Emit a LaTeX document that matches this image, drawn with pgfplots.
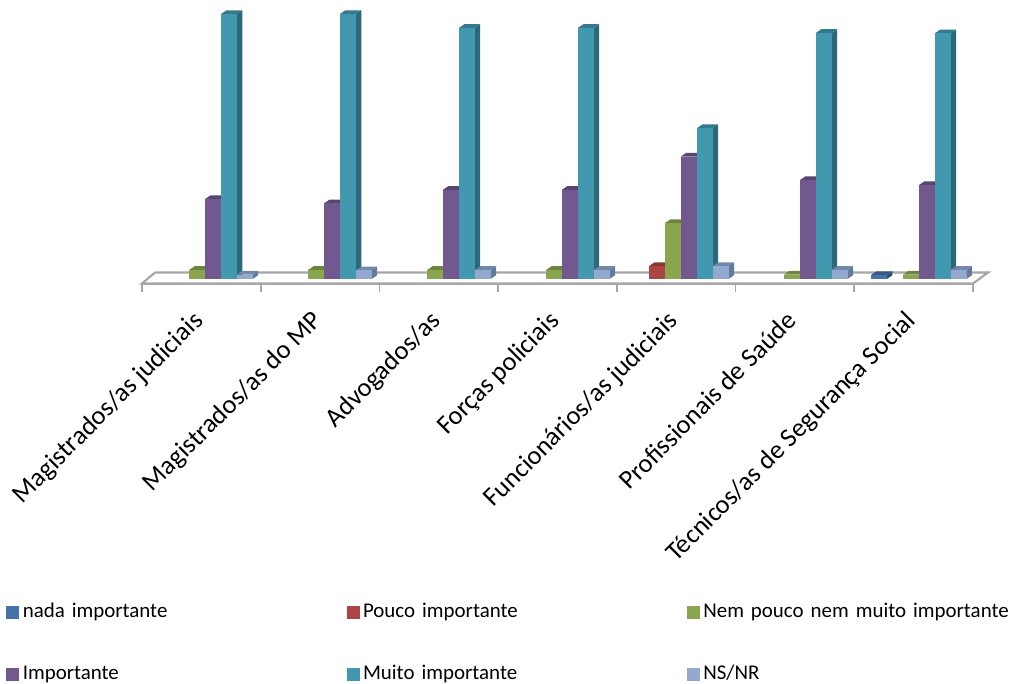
\documentclass[border=0pt]{standalone}
\usepackage{fontspec}
\setmainfont{Carlito}
\usepackage{pgfplots}
\pgfplotsset{compat=1.18}
\definecolor{cBlue}{HTML}{4572A7}\definecolor{cBlueS}{HTML}{2F4F75}\definecolor{cBlueT}{HTML}{365A86}
\definecolor{cRed}{HTML}{AA4643}\definecolor{cRedS}{HTML}{762F2D}\definecolor{cRedT}{HTML}{883634}
\definecolor{cGreen}{HTML}{89A54E}\definecolor{cGreenS}{HTML}{5F7335}\definecolor{cGreenT}{HTML}{6E843E}
\definecolor{cPurple}{HTML}{71588F}\definecolor{cPurpleS}{HTML}{4E3C63}\definecolor{cPurpleT}{HTML}{5A4572}
\definecolor{cTeal}{HTML}{4198AF}\definecolor{cTealS}{HTML}{2C6879}\definecolor{cTealT}{HTML}{34798C}
\definecolor{cSky}{HTML}{93A9CF}\definecolor{cSkyS}{HTML}{627A9B}\definecolor{cSkyT}{HTML}{7187AC}
\definecolor{axisgray}{HTML}{A6A6A6}
\pgfmathsetmacro{\unitx}{1/118.7}
\pgfmathsetmacro{\depthx}{5.5*\unitx}
\pgfmathsetmacro{\depthy}{3.8/3.58}
% one 3-D column: category, series position, value, colour stem
\newcommand{\column}[4]{%
  \pgfmathsetmacro{\xa}{#1+(15.3+0.25*#1+15.9*#2)*\unitx}%
  \pgfmathsetmacro{\xb}{\xa+15.9*\unitx}%
  \pgfmathsetmacro{\xc}{\xb+\depthx}%
  \pgfmathsetmacro{\xd}{\xa+\depthx}%
  \pgfmathsetmacro{\yt}{#3+\depthy}%
  \addplot[forget plot,draw=none,fill=c#4S] coordinates {(\xb,0)(\xc,\depthy)(\xc,\yt)(\xb,#3)} -- cycle;
  \addplot[forget plot,draw=none,fill=c#4T] coordinates {(\xa,#3)(\xb,#3)(\xc,\yt)(\xd,\yt)} -- cycle;
  \addplot[forget plot,draw=none,fill=c#4] coordinates {(\xa,0)(\xb,0)(\xb,#3)(\xa,#3)} -- cycle;
}
\pgfplotsset{
  legsquare/.style={legend image code/.code={\fill[##1] (0,-4.5pt) rectangle (9pt,4.5pt);}},
}
\begin{document}
\begin{tikzpicture}[x=1pt,y=1pt]
\useasboundingbox (-106.5pt,-300.375pt) rectangle (651pt,212.625pt);
\begin{axis}[
  at={(0,0)},anchor=south west,
  scale only axis,width=623.25pt,height=212.625pt,
  xmin=0,xmax=7,ymin=-1.26,ymax=77.93,
  clip=false,
  axis x line*=bottom,axis y line*=left,
  y axis line style={draw=none},ytick=\empty,
  xtick={0,1,2,3,4,5,6,7},
  x tick label as interval,
  xticklabels={Magistrados/as judiciais,Magistrados/as do MP,Advogados/as,Forças policiais,Funcionários/as judiciais,Profissionais de Saúde,Técnicos/as de Segurança Social},
  x tick label style={rotate=45,anchor=north east,font=\fontsize{19.8}{22}\selectfont,inner sep=1pt,xshift=-13.5pt,yshift=-3pt},
  x axis line style={draw=axisgray,line width=1.6pt},
  tick align=outside,major tick length=6pt,
  x tick style={draw=axisgray,line width=1.2pt},
  legend columns=3,
  legend cell align=left,
  legend style={draw=none,fill=none,at={(-106.5pt+1.5pt,-236.5pt)},anchor=north west,
    font=\fontsize{15.7}{18}\selectfont,
    /tikz/every even column/.append style={column sep=0pt},
    nodes={text width=239.8pt,align=left,inner xsep=3pt,inner ysep=0pt,text height=12pt,text depth=4pt},
    /tikz/row sep=30pt},
]
% floor of the plot
\addplot[forget plot,draw=axisgray,line width=1.6pt,fill=white] coordinates {(0,-1.26)(0.11,1.82)(7.127,1.82)(7,-1.26)} -- cycle;

% category 0
\column{0}{2}{2.5}{Green}\column{0}{3}{22.3}{Purple}\column{0}{4}{74.0}{Teal}\column{0}{5}{1.2}{Sky}
% category 1
\column{1}{2}{2.5}{Green}\column{1}{3}{21.1}{Purple}\column{1}{4}{74.0}{Teal}\column{1}{5}{2.4}{Sky}
% category 2
\column{2}{2}{2.5}{Green}\column{2}{3}{24.9}{Purple}\column{2}{4}{70.1}{Teal}\column{2}{5}{2.5}{Sky}
% category 3
\column{3}{2}{2.5}{Green}\column{3}{3}{24.9}{Purple}\column{3}{4}{70.1}{Teal}\column{3}{5}{2.5}{Sky}
% category 4
\column{4}{1}{3.6}{Red}\column{4}{2}{15.6}{Green}\column{4}{3}{34.2}{Purple}\column{4}{4}{42.1}{Teal}\column{4}{5}{3.6}{Sky}
% category 5
\column{5}{2}{1.2}{Green}\column{5}{3}{27.6}{Purple}\column{5}{4}{68.7}{Teal}\column{5}{5}{2.5}{Sky}
% category 6
\column{6}{0}{1.1}{Blue}\column{6}{2}{1.2}{Green}\column{6}{3}{26.2}{Purple}\column{6}{4}{68.6}{Teal}\column{6}{5}{2.5}{Sky}

\addlegendimage{legsquare,cBlue}\addlegendentry{nada importante}
\addlegendimage{legsquare,cRed}\addlegendentry{Pouco importante}
\addlegendimage{legsquare,cGreen}\addlegendentry{Nem pouco nem muito importante}
\addlegendimage{legsquare,cPurple}\addlegendentry{Importante}
\addlegendimage{legsquare,cTeal}\addlegendentry{Muito importante}
\addlegendimage{legsquare,cSky}\addlegendentry{NS/NR}
\end{axis}
\end{tikzpicture}
\end{document}
